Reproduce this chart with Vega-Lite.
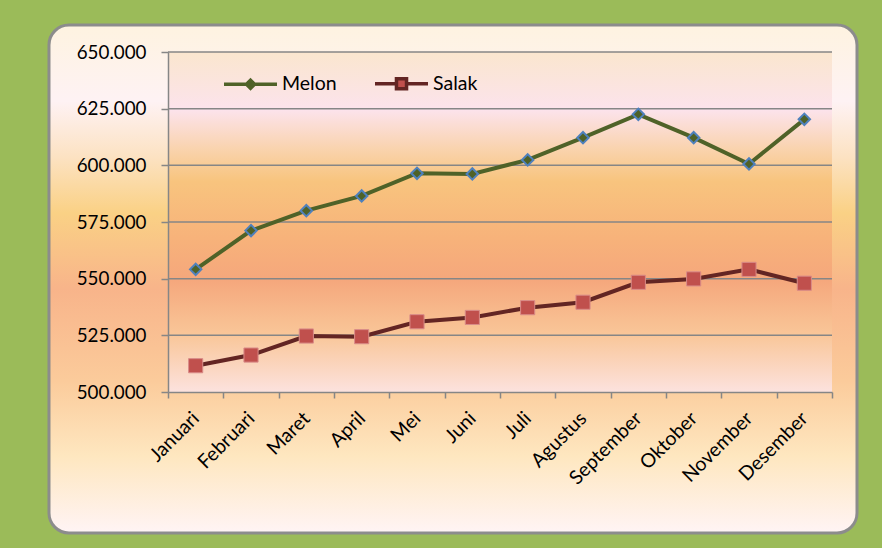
{
  "$schema": "https://vega.github.io/schema/vega-lite/v6.json",
  "width": 808,
  "height": 508,
  "autosize": {"type": "none"},
  "padding": {"left": 49, "top": 25, "right": 25, "bottom": 15},
  "background": "#9BBB59",
  "view": {
    "fill": {"gradient": "linear", "x1": 0, "y1": 0, "x2": 0, "y2": 1, "stops": [
      {"offset": 0, "color": "#FEF3E0"},
      {"offset": 0.15, "color": "#FEF2F4"},
      {"offset": 0.26, "color": "#FCE2C2"},
      {"offset": 0.37, "color": "#FAD185"},
      {"offset": 0.52, "color": "#F8B48A"},
      {"offset": 0.7, "color": "#FBCB9B"},
      {"offset": 0.85, "color": "#FEE7C0"},
      {"offset": 1, "color": "#FFF4F5"}
    ]},
    "stroke": "#8C8C8C",
    "strokeWidth": 3,
    "cornerRadius": 20
  },
  "config": {
    "font": "Lato",
    "axis": {
      "domainColor": "#868686",
      "domainWidth": 1.5,
      "tickColor": "#868686",
      "tickWidth": 1.5,
      "labelColor": "#000000",
      "labelFont": "Lato",
      "grid": false,
      "title": null
    },
    "legend": {"labelFont": "Lato", "labelColor": "#000000"}
  },
  "datasets": {
    "main": [
      {"m": "Januari", "series": "Melon", "v": 554100},
      {"m": "Februari", "series": "Melon", "v": 571200},
      {"m": "Maret", "series": "Melon", "v": 580000},
      {"m": "April", "series": "Melon", "v": 586500},
      {"m": "Mei", "series": "Melon", "v": 596500},
      {"m": "Juni", "series": "Melon", "v": 596200},
      {"m": "Juli", "series": "Melon", "v": 602400},
      {"m": "Agustus", "series": "Melon", "v": 612200},
      {"m": "September", "series": "Melon", "v": 622500},
      {"m": "Oktober", "series": "Melon", "v": 612200},
      {"m": "November", "series": "Melon", "v": 600600},
      {"m": "Desember", "series": "Melon", "v": 620300},
      {"m": "Januari", "series": "Salak", "v": 511600},
      {"m": "Februari", "series": "Salak", "v": 516300},
      {"m": "Maret", "series": "Salak", "v": 524700},
      {"m": "April", "series": "Salak", "v": 524400},
      {"m": "Mei", "series": "Salak", "v": 531000},
      {"m": "Juni", "series": "Salak", "v": 532900},
      {"m": "Juli", "series": "Salak", "v": 537200},
      {"m": "Agustus", "series": "Salak", "v": 539600},
      {"m": "September", "series": "Salak", "v": 548400},
      {"m": "Oktober", "series": "Salak", "v": 549900},
      {"m": "November", "series": "Salak", "v": 554100},
      {"m": "Desember", "series": "Salak", "v": 548000}
    ],
    "grid": [
      {"g": 525000}, {"g": 550000}, {"g": 575000}, {"g": 600000}, {"g": 625000}, {"g": 650000}
    ]
  },
  "layer": [
    {
      "data": {"values": [{"k": 1}]},
      "mark": {"type": "rect", "color": {"gradient": "linear", "x1": 0, "y1": 0, "x2": 0, "y2": 1, "stops": [
        {"offset": 0, "color": "#FAE6CE"},
        {"offset": 0.17, "color": "#FCE3EC"},
        {"offset": 0.3, "color": "#F9D1A6"},
        {"offset": 0.38, "color": "#F8C47E"},
        {"offset": 0.55, "color": "#F7B27A"},
        {"offset": 0.67, "color": "#F5A77C"},
        {"offset": 0.83, "color": "#F9C698"},
        {"offset": 1, "color": "#FCE2DE"}
      ]}},
      "encoding": {
        "x": {"datum": "Januari", "type": "nominal", "bandPosition": 0},
        "x2": {"datum": "Desember", "bandPosition": 1},
        "y": {"datum": 500000, "type": "quantitative"},
        "y2": {"datum": 650000}
      }
    },
    {
      "data": {"name": "grid"},
      "mark": {"type": "rule", "color": "#868686", "strokeWidth": 1.5},
      "encoding": {
        "x": {"datum": "Januari", "type": "nominal", "bandPosition": 0},
        "x2": {"datum": "Desember", "bandPosition": 1},
        "y": {"field": "g", "type": "quantitative"}
      }
    },
    {
      "data": {"name": "main"},
      "transform": [{"filter": "datum.series === 'Melon'"}],
      "mark": {"type": "line", "stroke": "#4F6228", "strokeWidth": 4},
      "encoding": {
        "x": {
          "field": "m", "type": "nominal",
          "scale": {"type": "band", "domain": ["Januari", "Februari", "Maret", "April", "Mei", "Juni", "Juli", "Agustus", "September", "Oktober", "November", "Desember"], "range": [119, 783], "paddingInner": 0, "paddingOuter": 0},
          "axis": {"title": null, "offset": -141, "tickBand": "extent", "tickSize": 6, "labelAngle": -45, "labelAlign": "right", "labelBaseline": "middle", "labelFontSize": 19.5, "labelPadding": 17, "zindex": 1}
        },
        "y": {
          "field": "v", "type": "quantitative",
          "scale": {"domain": [500000, 650000], "range": [367, 27], "nice": false, "zero": false},
          "axis": {"title": null, "offset": -119, "values": [500000, 525000, 550000, 575000, 600000, 625000, 650000], "labelExpr": "replace(format(datum.value, ','), ',', '.')", "tickSize": 7, "labelFontSize": 18.8, "labelPadding": 15, "zindex": 1}
        }
      }
    },
    {
      "data": {"name": "main"},
      "transform": [{"filter": "datum.series === 'Salak'"}],
      "mark": {"type": "line", "stroke": "#632523", "strokeWidth": 4},
      "encoding": {
        "x": {"field": "m", "type": "nominal"},
        "y": {"field": "v", "type": "quantitative"}
      }
    },
    {
      "data": {"name": "main"},
      "transform": [{"filter": "datum.series === 'Melon'"}],
      "mark": {"type": "point", "shape": "diamond", "filled": true, "fill": "#4F6228", "stroke": "#4F81BD", "strokeWidth": 2, "size": 130, "opacity": 1},
      "encoding": {
        "x": {"field": "m", "type": "nominal"},
        "y": {"field": "v", "type": "quantitative"}
      }
    },
    {
      "data": {"name": "main"},
      "transform": [{"filter": "datum.series === 'Salak'"}],
      "mark": {"type": "point", "shape": "square", "filled": true, "fill": "#C0504D", "stroke": "#D98C89", "strokeWidth": 1, "size": 200, "opacity": 1},
      "encoding": {
        "x": {"field": "m", "type": "nominal"},
        "y": {"field": "v", "type": "quantitative"}
      }
    },
    {
      "data": {"name": "main"},
      "mark": {"type": "point", "filled": true, "opacity": 0, "size": 2809},
      "encoding": {
        "x": {"field": "m", "type": "nominal"},
        "y": {"field": "v", "type": "quantitative"},
        "shape": {
          "field": "series", "type": "nominal",
          "scale": {"domain": ["Melon", "Salak"], "range": ["M-1,0H-0.15M0.15,0H1M0,-0.15L0.15,0L0,0.15L-0.15,0Z", "M-1,0H-0.19M0.19,0H1M-0.19,-0.19H0.19V0.19H-0.19Z"]},
          "legend": {"title": null, "orient": "none", "legendX": 173, "legendY": 30, "direction": "horizontal", "symbolSize": 2809, "symbolStrokeWidth": 3.5, "symbolOpacity": 1, "labelFontSize": 19.5, "labelOffset": 3, "columnPadding": 31, "padding": 0}
        },
        "fill": {"field": "series", "type": "nominal", "scale": {"domain": ["Melon", "Salak"], "range": ["#4F6228", "#C0504D"]}},
        "stroke": {"field": "series", "type": "nominal", "scale": {"domain": ["Melon", "Salak"], "range": ["#4F6228", "#632523"]}}
      }
    }
  ]
}
